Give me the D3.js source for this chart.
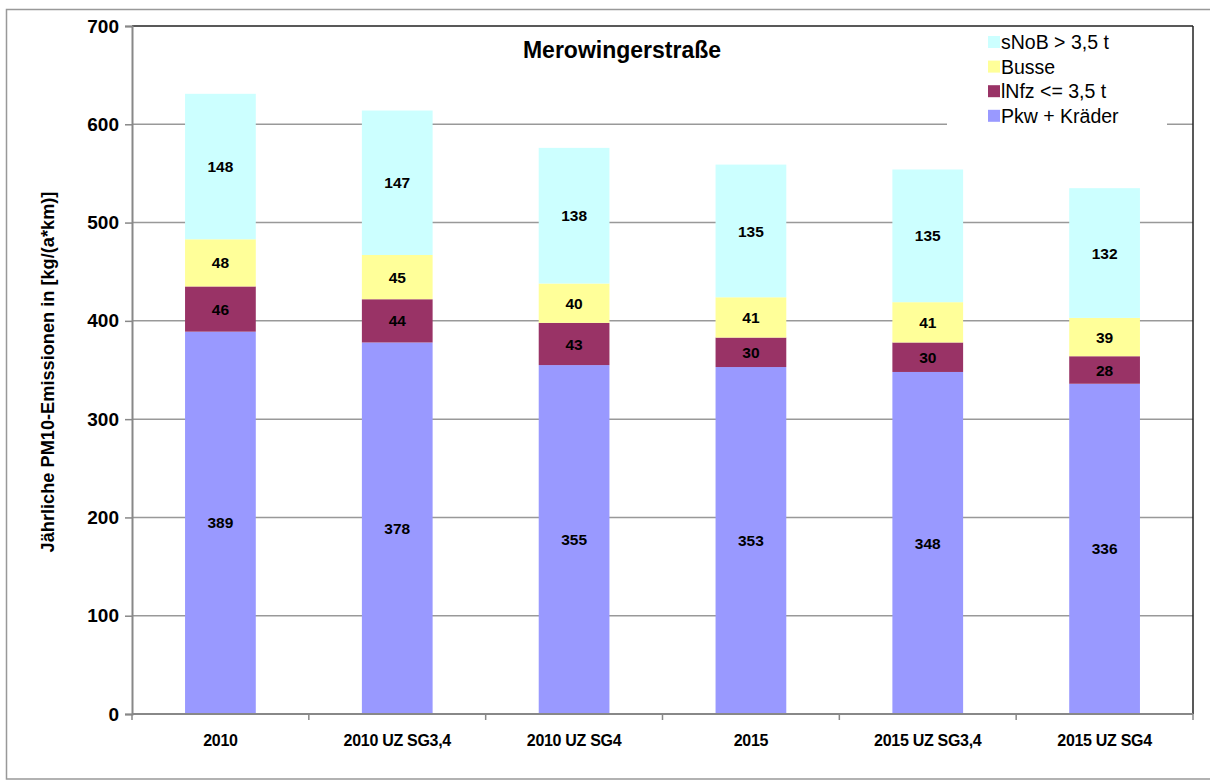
<!DOCTYPE html>
<html><head><meta charset="utf-8">
<script src="https://cdn.jsdelivr.net/npm/d3@7"></script>
<style>body{margin:0;background:#fff}svg{display:block}text{font-family:"Liberation Sans",Arial,sans-serif}</style>
</head><body>
<script>
const categories = ["2010","2010 UZ SG3,4","2010 UZ SG4","2015","2015 UZ SG3,4","2015 UZ SG4"];
const seriesNames = ["Pkw + Kräder","lNfz <= 3,5 t","Busse","sNoB > 3,5 t"];
const pkw  = [389,378,355,353,348,336];
const lnfz = [46,44,43,30,30,28];
const busse = [48,45,40,41,41,39];
const snob = [148,147,138,135,135,132];
const yTicks = [0,100,200,300,400,500,600,700];
const colors = ["#9999FF","#993366","#FFFF99","#CCFFFF"];

const W=1210,H=781;
const m={l:132,r:1193,t:26,b:714};
const svg=d3.select("body").append("svg").attr("width",W).attr("height",H);
svg.append("rect").attr("x",6.5).attr("y",9.5).attr("width",1215).attr("height",769.5).attr("fill","#fff").attr("stroke","#999").attr("stroke-width",1.5);

const x=d3.scaleBand().domain(categories).range([m.l,m.r]).paddingInner(0.6).paddingOuter(0.3);
const y=d3.scaleLinear().domain([0,700]).range([m.b,m.t]);

// gridlines
svg.append("g").selectAll("line").data(yTicks.filter(t=>t>0&&t<700)).join("line")
 .attr("x1",m.l).attr("x2",m.r).attr("y1",d=>y(d)).attr("y2",d=>y(d))
 .attr("stroke","#999").attr("stroke-width",1.5);

const rows=categories.map((c,i)=>({cat:c,s0:pkw[i],s1:lnfz[i],s2:busse[i],s3:snob[i]}));
const stack=d3.stack().keys(["s0","s1","s2","s3"])(rows);

const g=svg.append("g");
stack.forEach((layer,k)=>{
  g.append("g").selectAll("rect").data(layer).join("rect")
   .attr("x",d=>x(d.data.cat)).attr("width",x.bandwidth())
   .attr("y",d=>y(d[1])).attr("height",d=>y(d[0])-y(d[1]))
   .attr("fill",colors[k]);
  g.append("g").selectAll("text").data(layer).join("text")
   .attr("x",d=>x(d.data.cat)+x.bandwidth()/2)
   .attr("y",d=>(y(d[0])+y(d[1]))/2).attr("dy","0.36em")
   .attr("text-anchor","middle").attr("font-weight","bold").attr("font-size",15.5)
   .text(d=>d[1]-d[0]);
});

// plot border top/right
svg.append("line").attr("x1",m.l).attr("x2",m.r).attr("y1",m.t).attr("y2",m.t).attr("stroke","#222").attr("stroke-width",1.5);
svg.append("line").attr("x1",m.r).attr("x2",m.r).attr("y1",m.t).attr("y2",m.b).attr("stroke","#222").attr("stroke-width",1.5);

// y axis
const ya=svg.append("g").attr("transform",`translate(${m.l},0)`)
 .call(d3.axisLeft(y).tickValues(yTicks).tickSize(7).tickPadding(6));
ya.select(".domain").attr("stroke","#888").attr("stroke-width",2);
ya.selectAll(".tick line").attr("stroke","#888").attr("stroke-width",1.5);
ya.selectAll(".tick text").attr("font-size",19).attr("font-weight","bold").attr("fill","#000")
  .attr("font-family","Liberation Sans,Arial,sans-serif");

// x axis
const xa=svg.append("g").attr("transform",`translate(0,${m.b})`);
xa.append("line").attr("x1",m.l).attr("x2",m.r).attr("stroke","#888").attr("stroke-width",2);
xa.selectAll("line.tk").data(d3.range(categories.length+1)).join("line").attr("class","tk")
 .attr("x1",i=>m.l+i*(m.r-m.l)/categories.length).attr("x2",i=>m.l+i*(m.r-m.l)/categories.length)
 .attr("y1",0).attr("y2",6).attr("stroke","#888").attr("stroke-width",1.5);
xa.selectAll("text").data(categories).join("text")
 .attr("x",d=>x(d)+x.bandwidth()/2).attr("y",32).attr("text-anchor","middle")
 .attr("font-weight","bold").attr("font-size",16).attr("letter-spacing","-0.3").text(d=>d);

// y title
svg.append("text").attr("transform","translate(54,372) rotate(-90)").attr("text-anchor","middle")
 .attr("font-weight","bold").attr("font-size",18.2).text("Jährliche PM10-Emissionen in  [kg/(a*km)]");

// title
svg.append("text").attr("x",622).attr("y",58).attr("text-anchor","middle").attr("font-weight","bold")
 .attr("font-size",23).text("Merowingerstraße");

// legend
svg.append("rect").attr("x",947).attr("y",m.t+1).attr("width",220).attr("height",100).attr("fill","#fff");
const legOrder=[3,2,1,0];
const lg=svg.append("g").selectAll("g").data(legOrder).join("g")
 .attr("transform",(d,i)=>`translate(988,${42+i*24.6})`);
lg.append("rect").attr("x",0).attr("y",-6).attr("width",12).attr("height",12).attr("fill",d=>colors[d]);
lg.append("text").attr("x",13).attr("y",0).attr("dy","0.36em").attr("font-size",19.5).text(d=>seriesNames[d]);
</script>
</body></html>
